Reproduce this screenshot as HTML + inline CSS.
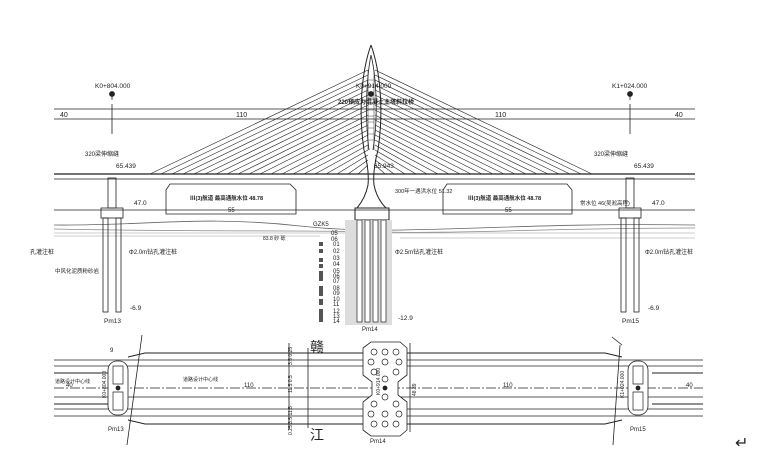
<!DOCTYPE html>
<html><head><meta charset="utf-8"><style>
html,body{margin:0;padding:0;background:#fff;}
svg{display:block;}
text{font-family:"Liberation Sans","Noto Sans CJK SC",sans-serif;fill:#222;}
</style></head><body>
<svg width="760" height="462" viewBox="0 0 760 462" xmlns="http://www.w3.org/2000/svg" stroke="#222" fill="none" stroke-width="0.8">
<!-- dimension lines -->
<line x1="54" y1="109" x2="695" y2="109"/>
<line x1="54" y1="119" x2="695" y2="119"/>
<line x1="112" y1="104" x2="112" y2="134"/>
<line x1="630" y1="104" x2="630" y2="134"/>
<text x="60" y="117" font-size="7" stroke="none">40</text>
<text x="236" y="117" font-size="7" stroke="none">110</text>
<text x="495" y="117" font-size="7" stroke="none">110</text>
<text x="675" y="117" font-size="7" stroke="none">40</text>
<text x="95" y="88" font-size="6.5" stroke="none">K0+804.000</text>
<text x="612" y="88" font-size="6.5" stroke="none">K1+024.000</text>
<text x="356" y="88" font-size="6.5" stroke="none">K0+914.000</text>
<circle cx="112" cy="94" r="2.5" fill="#222"/><line x1="112" y1="96" x2="112" y2="100"/>
<circle cx="630" cy="94" r="2.5" fill="#222"/><line x1="630" y1="96" x2="630" y2="100"/>
<circle cx="371" cy="94" r="2.5" fill="#222"/>
<!-- cables -->
<g stroke-width="0.6">
<path d="M368 70L150 174M368 75L161 174M368 80L172 174M368 85L183 174M368 90L194 174M368 95L205 174M368 100L216 174M368 105L227 174M368 110L238 174M368 115L249 174M368 120L260 174M368 125L271 174M368 130L282 174M368 135L293 174M368 140L304 174M368 145L315 174M368 150L326 174M368 155L337 174M368 160L348 174M368 165L358 174"/>
<path d="M375 70L592 174M375 75L581 174M375 80L570 174M375 85L559 174M375 90L548 174M375 95L537 174M375 100L526 174M375 105L515 174M375 110L504 174M375 115L493 174M375 120L482 174M375 125L471 174M375 130L460 174M375 135L449 174M375 140L438 174M375 145L427 174M375 150L416 174M375 155L405 174M375 160L394 174M375 165L385 174"/>
</g>
<text x="338" y="104" font-size="6" stroke="none" font-weight="bold">220预应力混凝土主塔斜拉桥</text>
<!-- deck -->
<line x1="54" y1="174" x2="695" y2="174" stroke-width="1.2"/>
<line x1="54" y1="179" x2="695" y2="179"/>
<!-- tower -->
<path d="M371 45 C362 70 358 110 364 150 C368 165 369 175 368 185 C366 195 362 202 357 208 M371 45 C380 70 384 110 378 150 C374 165 373 175 374 185 C376 195 380 202 386 208" stroke-width="1"/>
<path d="M371 55 C366 80 365 120 369 150 M371 55 C377 80 378 120 373 150"/>
<path d="M368 70 V150 M374 70 V150" stroke-width="0.5"/>
<g stroke-width="0.4"><path d="M368 80h6M368 86h6M368 92h6M368 98h6M368 104h6M368 110h6M368 116h6M368 122h6M368 128h6M368 134h6M368 140h6"/></g>
<rect x="355" y="208" width="34" height="12" stroke-width="1"/>
<!-- water/ground -->
<line x1="54" y1="210" x2="695" y2="210"/>
<path d="M54 225 C150 226 200 215 300 226 S500 222 695 225" stroke="#666"/>
<path d="M54 229 C200 232 300 230 380 232 S550 228 695 228" stroke="#888"/>
<path d="M54 233 H695 M54 236 H320 M400 238 H695" stroke="#999" stroke-width="0.6"/>
<!-- nav boxes -->
<path d="M166 190 L170 184 H290 L296 190 V214 H166 Z"/>
<path d="M443 190 L447 184 H567 L572 190 V214 H443 Z"/>
<text x="190" y="200" font-size="5.5" stroke="none" font-weight="bold">Ⅲ(3)航道 最高通航水位 48.78</text>
<text x="468" y="200" font-size="5.5" stroke="none" font-weight="bold">Ⅲ(3)航道 最高通航水位 48.78</text>
<text x="228" y="212" font-size="6" stroke="none">55</text>
<text x="505" y="212" font-size="6" stroke="none">55</text>
<text x="395" y="193" font-size="5.5" stroke="none">300年一遇洪水位 51.32</text>
<text x="580" y="205" font-size="5.5" stroke="none">常水位 46(吴淞高程)</text>
<!-- Pm13 -->
<rect x="108" y="178" width="8" height="30"/>
<rect x="101" y="208" width="22" height="10"/>
<rect x="103" y="218" width="5" height="94"/><rect x="116" y="218" width="5" height="94"/>
<text x="85" y="156" font-size="6" stroke="none">320梁伸缩缝</text>
<text x="116" y="168" font-size="6.5" stroke="none">65.439</text>
<text x="134" y="205" font-size="6.5" stroke="none">47.0</text>
<text x="130" y="310" font-size="6.5" stroke="none">-6.9</text>
<text x="104" y="323" font-size="6.5" stroke="none">Pm13</text>
<text x="129" y="254" font-size="6" stroke="none">Φ2.0m钻孔灌注桩</text>
<text x="30" y="254" font-size="6" stroke="none">孔灌注桩</text>
<text x="55" y="273" font-size="5.5" stroke="none">中风化泥质粉砂岩</text>
<!-- Pm15 -->
<rect x="626" y="178" width="8" height="30"/>
<rect x="619" y="208" width="22" height="10"/>
<rect x="621" y="218" width="5" height="94"/><rect x="634" y="218" width="5" height="94"/>
<text x="594" y="156" font-size="6" stroke="none">320梁伸缩缝</text>
<text x="634" y="168" font-size="6.5" stroke="none">65.439</text>
<text x="652" y="205" font-size="6.5" stroke="none">47.0</text>
<text x="648" y="310" font-size="6.5" stroke="none">-6.9</text>
<text x="622" y="323" font-size="6.5" stroke="none">Pm15</text>
<text x="645" y="254" font-size="6" stroke="none">Φ2.0m钻孔灌注桩</text>
<text x="374" y="168" font-size="6.5" stroke="none">65.943</text>
<!-- tower piles -->
<rect x="345" y="220" width="47" height="105" fill="#ddd" stroke="none"/>
<g stroke-width="0.7"><rect x="357" y="220" width="5" height="102" fill="#fff"/><rect x="365" y="220" width="5" height="102" fill="#fff"/><rect x="373" y="220" width="5" height="102" fill="#fff"/><rect x="381" y="220" width="5" height="102" fill="#fff"/></g>
<text x="398" y="320" font-size="6.5" stroke="none">-12.9</text>
<text x="362" y="331" font-size="6" stroke="none">Pm14</text>
<text x="395" y="254" font-size="6" stroke="none">Φ2.5m钻孔灌注桩</text>
<text x="313" y="226" font-size="6" stroke="none" fill="#666">GZK5</text>
<g font-size="6" stroke="none" fill="#444">
<text x="331" y="235">05</text><text x="331" y="241">06</text><text x="333" y="246">01</text><text x="333" y="253">02</text><text x="333" y="260">03</text><text x="333" y="266">04</text><text x="333" y="273">05</text><text x="333" y="278">06</text><text x="333" y="283">07</text><text x="333" y="290">08</text><text x="333" y="295">09</text><text x="333" y="301">10</text><text x="333" y="306">11</text><text x="333" y="313">12</text><text x="333" y="318">13</text><text x="333" y="323">14</text>
</g>
<g fill="#555" stroke="none"><rect x="319" y="242" width="4" height="4"/><rect x="319" y="249" width="4" height="4"/><rect x="319" y="258" width="4" height="4"/><rect x="319" y="264" width="4" height="4"/><rect x="319" y="271" width="4" height="10"/><rect x="319" y="286" width="4" height="10"/><rect x="319" y="299" width="4" height="6"/><rect x="319" y="309" width="4" height="13"/></g>
<text x="263" y="240" font-size="5" stroke="none">83.8 砂 砾</text>
<!-- plan view -->
<g stroke-width="1">
<path d="M54 373 H108 M128 357 L145 353 H605 L622 357 M652 373 H703"/>
<path d="M54 404 H108 M128 420 L145 424 H605 L622 420 M652 404 H703"/>
</g>
<g stroke-width="0.7">
<path d="M54 360 H703 M54 366 H703 M54 397 H703 M54 409 H703 M54 416 H703"/>
<path d="M54 388 H703" stroke-dasharray="10 2 2 2"/>
</g>
<rect x="108" y="361" width="20" height="54" rx="9" fill="#fff"/>
<rect x="628" y="361" width="20" height="54" rx="9" fill="#fff"/>
<path d="M363 348 L371 342 H400 L407 348 V375 L398 382 V395 L407 402 V430 L400 436 H371 L363 430 V402 L372 395 V382 L363 375 Z" fill="#fff"/>
<g stroke-width="0.7">
<circle cx="374" cy="352" r="3"/><circle cx="385" cy="352" r="3"/><circle cx="396" cy="352" r="3"/><circle cx="371" cy="362" r="3"/><circle cx="385" cy="362" r="3"/><circle cx="399" cy="362" r="3"/><circle cx="374" cy="372" r="3"/><circle cx="396" cy="372" r="3"/><circle cx="385" cy="379" r="3"/>
<circle cx="385" cy="397" r="3"/><circle cx="374" cy="404" r="3"/><circle cx="396" cy="404" r="3"/><circle cx="371" cy="414" r="3"/><circle cx="385" cy="414" r="3"/><circle cx="399" cy="414" r="3"/><circle cx="374" cy="424" r="3"/><circle cx="385" cy="424" r="3"/><circle cx="396" cy="424" r="3"/>
<path d="M113 366h10v18h-10zM113 392h10v18h-10zM633 366h10v18h-10zM633 392h10v18h-10z"/>
</g>
<circle cx="118" cy="388" r="2" fill="#222"/><circle cx="638" cy="388" r="2" fill="#222"/><circle cx="385" cy="388" r="2" fill="#222"/>
<line x1="142" y1="335" x2="127" y2="445"/>
<line x1="612" y1="337" x2="622" y2="345"/><line x1="620" y1="345" x2="613" y2="445"/>
<line x1="289" y1="343" x2="289" y2="430"/><line x1="308" y1="348" x2="308" y2="428"/>
<line x1="410" y1="343" x2="410" y2="432"/>
<text x="110" y="352" font-size="6" stroke="none">9</text>
<text x="244" y="387" font-size="6" stroke="none">110</text>
<text x="503" y="387" font-size="6" stroke="none">110</text>
<text x="66" y="387" font-size="6" stroke="none">40</text>
<text x="686" y="387" font-size="6" stroke="none">40</text>
<text x="55" y="383" font-size="5" stroke="none">道路设计中心线</text>
<text x="183" y="381" font-size="5" stroke="none">道路设计中心线</text>
<text x="310" y="352" font-size="14" stroke="none">赣</text>
<text x="310" y="440" font-size="14" stroke="none">江</text>
<text x="108" y="431" font-size="6" stroke="none">Pm13</text>
<text x="370" y="443" font-size="6" stroke="none">Pm14</text>
<text x="630" y="431" font-size="6" stroke="none">Pm15</text>
<g font-size="5" stroke="none"><text transform="translate(292,365) rotate(-90)">3.5 0.25</text><text transform="translate(292,393) rotate(-90)">11.5 0.5</text><text transform="translate(292,435) rotate(-90)">0.25 3.5 11.5</text><text transform="translate(380,395) rotate(-90)">K0+914.000</text><text transform="translate(106,398) rotate(-90)">K0+804.000</text><text transform="translate(624,398) rotate(-90)">K1+024.000</text><text transform="translate(416,396) rotate(-90)">48.39</text></g>
<text x="735" y="448" font-size="16" stroke="none" fill="#777">↵</text>
</svg>
</body></html>
